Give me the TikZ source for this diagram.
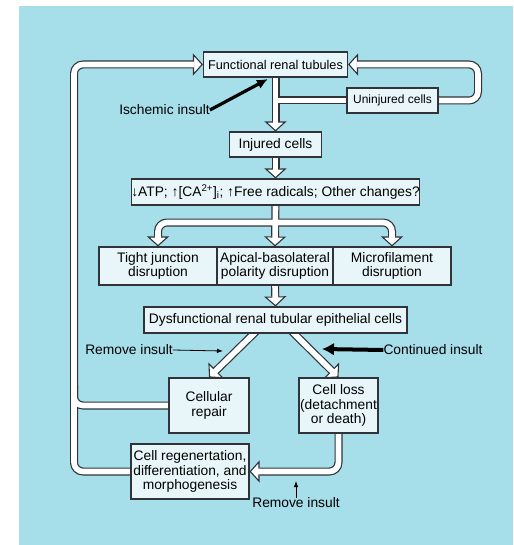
\documentclass[tikz,border=0pt]{standalone}
\usepackage{fontspec}
\setmainfont{Liberation Sans}
\usetikzlibrary{arrows.meta,calc}
\definecolor{bgc}{RGB}{166,222,233}
\definecolor{boxc}{RGB}{232,246,250}
\definecolor{edge}{RGB}{48,52,58}
\pgfdeclarelayer{back}
\pgfdeclarelayer{chanout}
\pgfdeclarelayer{chanin}
\pgfsetlayers{back,chanout,chanin,main}
\tikzset{
  box/.style={draw=edge, fill=boxc, line width=1.1pt, inner sep=0pt, align=center,
    font=\fontsize{13.8}{14.6}\selectfont},
  lab/.style={inner sep=0pt, font=\fontsize{13.8}{14.6}\selectfont},
  hh/.tip={Triangle[length=10pt,width=22pt,line width=1.1pt,fill=white,color=edge]},
  chout/.style={draw=edge, line width=8pt},
  chin/.style={draw=white, line width=5.6pt},
  ea/.style={-hh},
  ei/.style={shorten >=8.5pt},
  ba/.style={hh-hh},
  bi/.style={shorten >=8.5pt, shorten <=8.5pt},
  na/.style={},
  ni/.style={},
  rc/.style={rounded corners=9pt},
  thin/.style={line width=0.8pt, -{Latex[length=6pt,width=4.5pt]}},
  thick/.style={line width=3.2pt, -{Latex[length=11pt,width=10pt]}}
}
\newcommand\chan[3]{%
  \begin{pgfonlayer}{chanout}\draw[chout,#1] #3;\end{pgfonlayer}%
  \begin{pgfonlayer}{chanin}\draw[chin,#2] #3;\end{pgfonlayer}}
\begin{document}
\begin{tikzpicture}[x=1pt,y=-1pt]
\begin{pgfonlayer}{back}
  \fill[white] (0,0) rectangle (513,545);
  \fill[bgc] (19,6) rectangle (513,545);
\end{pgfonlayer}
\useasboundingbox (0,0) rectangle (513,545);

% boxes
\node[box,minimum width=144pt,minimum height=25pt,font=\fontsize{12.7}{14}\selectfont] (fr) at (275.5,64.5) {Functional renal tubules};
\node[box,minimum width=91pt,minimum height=25pt,font=\fontsize{12}{14}\selectfont] (un) at (392.5,100.5) {Uninjured cells};
\node[box,minimum width=92pt,minimum height=25pt] (inj) at (275.5,144.5) {Injured cells};
\node[box,minimum width=262pt,minimum height=26pt] (atp) at (275.5,192) {↓ATP; ↑[CA\textsuperscript{2+}]\textsubscript{i}; ↑Free radicals; Other changes?};
\node[box,minimum width=118pt,minimum height=38pt] (tj) at (158,266) {Tight junction\\disruption};
\node[box,minimum width=116pt,minimum height=38pt] (ab) at (275,266) {Apical-basolateral\\polarity disruption};
\node[box,minimum width=118pt,minimum height=38pt] (mf) at (392,266) {Microfilament\\disruption};
\node[box,minimum width=263pt,minimum height=26pt] (dys) at (275.5,320) {Dysfunctional renal tubular epithelial cells};
\node[box,minimum width=80pt,minimum height=55pt] (cr) at (209,405.5) {Cellular\\repair};
\node[box,minimum width=79pt,minimum height=55pt] (cl) at (338.5,405.5) {Cell loss\\(detachment\\or death)};
\node[box,minimum width=118pt,minimum height=55pt] (reg) at (190,471.5) {Cell regenertation,\\differentiation, and\\morphogenesis};

% labels
\node[lab] (isch) at (164.5,110) {Ischemic insult};
\node[lab] (rmL) at (129,350) {Remove insult};
\node[lab] (cont) at (433,350) {Continued insult};
\node[lab] (rmB) at (296,503) {Remove insult};

\coordinate (ischT) at (268,79);
\coordinate (rmLT) at (223,351);
\coordinate (contT) at (322,349);
\coordinate (rmBT) at (296,481);
\coordinate (lx) at (74,0);
\coordinate (rx) at (478,0);
\coordinate (sp) at (275.5,222.5);
\coordinate (br) at (275.5,100.5);
\coordinate (lj) at (74,385);

% channels
\chan{na}{ni}{(br) -- (un.west)}
\chan{ea}{ei}{(fr.south) -- (inj.north)}
\chan{ea,rc}{ei,rc}{(un.east) -- (rx |- un.east) -- (rx |- fr.east) -- (fr.east)}
\chan{ea,rc}{ei,rc}{(cr.west) -- (lx |- cr.west) -- (lx |- fr.west) -- (fr.west)}
\chan{na,rc}{ni,rc}{(reg.west) -- (lx |- reg.west) -- (lj)}
\chan{ea}{ei}{(inj.south) -- (atp.north)}
\chan{ea}{ei}{(atp.south) -- (ab.north)}
\chan{ba,rc}{bi,rc}{(tj.north) |- (sp) -| (mf.north)}
\chan{ea}{ei}{(ab.south) -- (dys.north)}
\chan{ea}{ei}{($(dys.south)+(-15.5,-6)$) -- (cr.north)}
\chan{ea}{ei}{($(dys.south)+(12.5,-6)$) -- (cl.north)}
\chan{ea,rc}{ei,rc}{(cl.south) |- (reg.east)}

% insult arrows
\draw[thick] (isch.east) -- (ischT);
\draw[thin] (rmL.east) -- (rmLT);
\draw[thick,line width=4pt,-{Latex[length=12pt,width=13pt]}] (cont.west) -- (contT);
\draw[thin] (rmB.north) -- (rmBT);
\end{tikzpicture}
\end{document}
